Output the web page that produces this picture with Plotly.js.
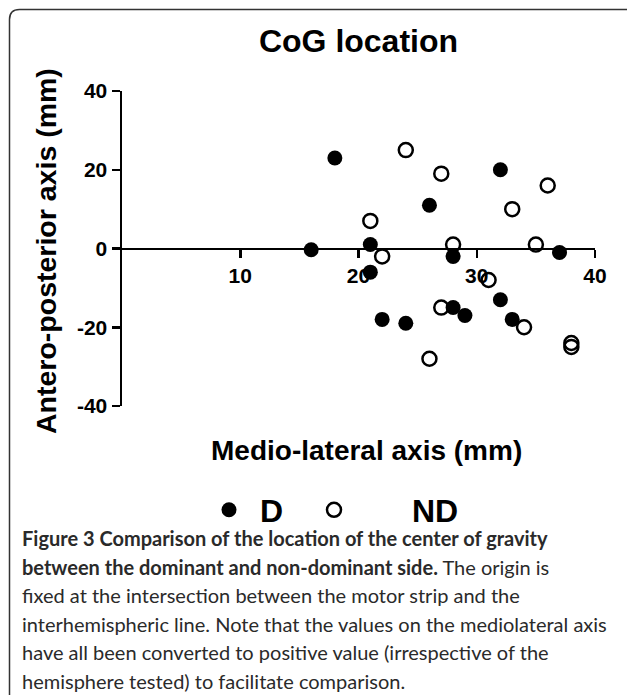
<!DOCTYPE html>
<html>
<head>
<meta charset="utf-8">
<script src="https://cdn.plot.ly/plotly-3.0.1.min.js"></script>
<style>html,body{margin:0;padding:0;background:#fff;}#chart{width:627px;height:695px;}</style>
</head>
<body>
<div id="chart"></div>
<script>
// ---- data ----
var dX  = [18, 16, 21, 21, 26, 32, 28, 37, 28, 29, 22, 24, 32, 33];
var dY  = [23, -0.3, 1, -6, 11, 20, -2, -1, -15, -17, -18, -19, -13, -18];
var ndX = [24, 21, 22, 27, 36, 33, 28, 35, 27, 26, 31, 34, 38, 38];
var ndY = [25, 7, -2, 19, 16, 10, 1, 1, -15, -28, -8, -20, -24, -25];
var xTicks = [10, 20, 30, 40];
var yTicks = [-40, -20, 0, 20, 40];
var seriesNames = ['D', 'ND'];
var titleText = 'CoG location';
var xTitle = 'Medio-lateral axis (mm)';
var yTitle = 'Antero-posterior axis (mm)';
var captionLines = [
  '<b>Figure 3 Comparison of the location of the center of gravity</b>',
  '<b>between the dominant and non-dominant side.</b> The origin is',
  'fixed at the intersection between the motor strip and the',
  'interhemispheric line. Note that the values on the mediolateral axis',
  'have all been converted to positive value (irrespective of the',
  'hemisphere tested) to facilitate comparison.'
];

// ---- layout geometry ----
var W = 627, H = 695;
var mL = 122, mR = 32, mT = 91, mB = 289;
var plotW = W - mL - mR, plotH = H - mT - mB;
function pxX(px) { return (px - mL) / plotW; }
function pxY(py) { return (H - mB - py) / plotH; }

var FONT = '"Liberation Sans", Arial, sans-serif';
var CAPFONT = 'Lato, "Open Sans", sans-serif';

var traces = [
  {
    type: 'scatter', mode: 'markers', name: seriesNames[1],
    x: ndX, y: ndY, cliponaxis: false, legend: 'legend2',
    marker: {symbol: 'circle', size: 14, color: 'rgba(255,255,255,0)', line: {color: '#000', width: 2.5}}
  },
  {
    type: 'scatter', mode: 'markers', name: seriesNames[0],
    x: dX, y: dY, cliponaxis: false, legend: 'legend',
    marker: {symbol: 'circle', size: 15, color: '#000', line: {width: 0}}
  }
];

var annotations = [
  {text: xTitle, xref: 'paper', yref: 'paper', x: pxX(366), y: pxY(450), xanchor: 'center', yanchor: 'middle',
   showarrow: false, font: {family: FONT, size: 28, color: '#000', weight: 'bold'}},
  {text: yTitle, xref: 'paper', yref: 'paper', x: pxX(46), y: pxY(251), xanchor: 'center', yanchor: 'middle',
   textangle: -90, showarrow: false, font: {family: FONT, size: 28.5, color: '#000', weight: 'bold'}}
];
var capY0 = 538, capStep = 28.6;
captionLines.forEach(function (t, i) {
  annotations.push({text: t, xref: 'paper', yref: 'paper', x: pxX(20), y: pxY(capY0 + capStep * i),
    xanchor: 'left', yanchor: 'middle', align: 'left', showarrow: false,
    font: {family: CAPFONT, size: 20, color: '#2a2a2a'}});
});

var boxPath = 'M ' + pxX(9.5) + ',' + pxY(700) + ' L ' + pxX(9.5) + ',' + pxY(19.5) +
  ' Q ' + pxX(9.5) + ',' + pxY(9.5) + ' ' + pxX(19.5) + ',' + pxY(9.5) +
  ' L ' + pxX(640) + ',' + pxY(9.5);

var legendCommon = {
  orientation: 'h', xanchor: 'left', yanchor: 'middle', bgcolor: 'rgba(0,0,0,0)',
  borderwidth: 0, font: {family: FONT, size: 32, color: '#000', weight: 'bold'}
};

var layout = {
  width: W, height: H,
  paper_bgcolor: '#fff', plot_bgcolor: '#fff',
  margin: {l: mL, r: mR, t: mT, b: mB, autoexpand: false},
  showlegend: true,
  title: {text: titleText, font: {family: FONT, size: 32, color: '#000', weight: 'bold'},
          xref: 'paper', x: 0.5, xanchor: 'center', yref: 'container', y: 1 - 41 / H, yanchor: 'middle'},
  xaxis: {
    range: [0, 40], anchor: 'free', position: 0.5, showline: true, linecolor: '#000', linewidth: 2.5,
    showgrid: false, zeroline: false, tickmode: 'array', tickvals: xTicks, ticktext: xTicks.map(String),
    ticks: 'outside', ticklen: 8, tickwidth: 2.5, tickcolor: '#000',
    tickfont: {family: FONT, size: 21, color: '#000', weight: 'bold'}, fixedrange: true
  },
  yaxis: {
    range: [-40, 40], showline: true, linecolor: '#000', linewidth: 2.5,
    showgrid: false, zeroline: false, tickmode: 'array', tickvals: yTicks, ticktext: yTicks.map(String),
    ticks: 'outside', ticklen: 8, tickwidth: 2.5, tickcolor: '#000',
    tickfont: {family: FONT, size: 21, color: '#000', weight: 'bold'}, fixedrange: true
  },
  legend: Object.assign({}, legendCommon, {itemwidth: 52, x: pxX(198), y: pxY(510)}),
  legend2: Object.assign({}, legendCommon, {itemwidth: 146, x: pxX(256), y: pxY(510)}),
  annotations: annotations,
  shapes: [{type: 'path', path: boxPath, xref: 'paper', yref: 'paper', line: {color: '#333', width: 1.5}, layer: 'below'}]
};

Plotly.newPlot('chart', traces, layout, {displayModeBar: false, staticPlot: true});
</script>
</body>
</html>
